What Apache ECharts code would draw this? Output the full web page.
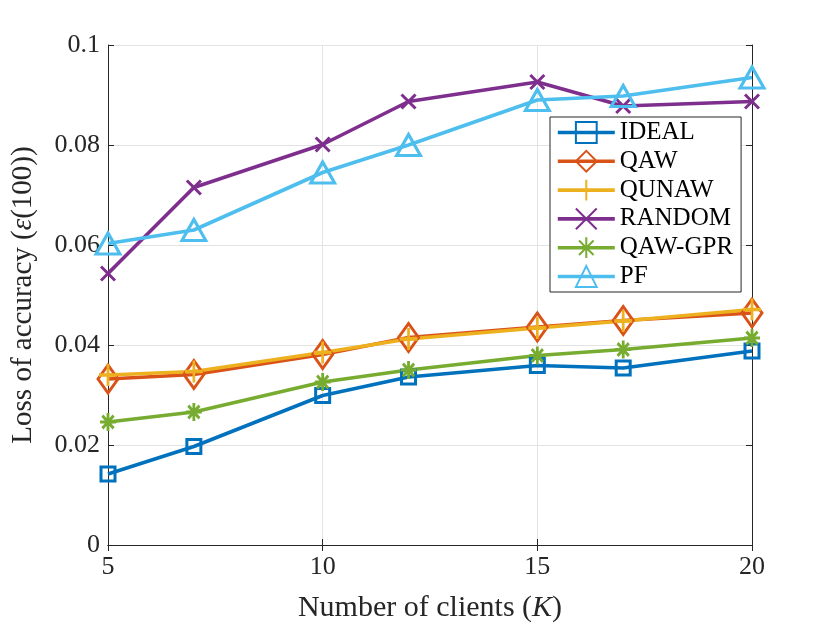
<!DOCTYPE html>
<html>
<head>
<meta charset="utf-8">
<script src="https://cdn.jsdelivr.net/npm/echarts@6/dist/echarts.min.js"></script>
<style>
  html, body { margin: 0; padding: 0; background: #fff; }
  #main { width: 830px; height: 623px; }
</style>
</head>
<body>
<div id="main"></div>
<script>
// 数据
var clients = [5, 7, 10, 12, 15, 17, 20];
var ideal   = [0.0142, 0.0197, 0.0299, 0.0336, 0.0359, 0.0354, 0.0388];
var qaw     = [0.0332, 0.0341, 0.0381, 0.0415, 0.0436, 0.0449, 0.0464];
var qunaw   = [0.0340, 0.0347, 0.0385, 0.0412, 0.0434, 0.0448, 0.0471];
var random  = [0.0543, 0.0715, 0.0801, 0.0887, 0.0926, 0.0878, 0.0887];
var qawGpr  = [0.0246, 0.0266, 0.0326, 0.0350, 0.0379, 0.0391, 0.0414];
var pf      = [0.0603, 0.0630, 0.0745, 0.0800, 0.0890, 0.0898, 0.0935];
var yTicks  = [0, 0.02, 0.04, 0.06, 0.08, 0.1];

var FONT = 'Liberation Serif';

function pairs(ys){
	var out = [];
	for (var i = 0; i < clients.length; i++) out.push([clients[i], ys[i]]);
	return out;
}

function makeSeries(name, ys, color, symbol, size){
	return {
		name: name,
		type: 'line',
		data: pairs(ys),
		symbol: symbol,
		symbolSize: size,
		showAllSymbol: true,
		z: 3,
		lineStyle: { color: color, width: 3.6 },
		itemStyle: { color: 'rgba(0,0,0,0)', borderColor: color, borderWidth: 3 },
		emphasis: { disabled: true }
	};
}

function loadChart(){
	var chart = echarts.init(document.getElementById('main'));
	var plus  = 'path://M5,0 L5,10 M0,5 L10,5';
	var cross = 'path://M0,0 L10,10 M10,0 L0,10';
	var star  = 'path://M5,0 L5,10 M0,5 L10,5 M1.5,1.5 L8.5,8.5 M8.5,1.5 L1.5,8.5';
	var axisColor = '#262626';
	var option = {
		animation: false,
		backgroundColor: '#fff',
		grid: { left: 108, right: 78, top: 45, bottom: 78, outerBoundsMode: 'none' },
		legend: {
			orient: 'vertical',
			left: 550,
			top: 117,
			width: 193,
			padding: [3, 8, 3, 6],
			itemWidth: 57,
			itemHeight: 26,
			itemGap: 3.8,
			backgroundColor: '#fff',
			borderColor: axisColor,
			borderWidth: 1,
			lineStyle: { width: 3.6 },
			textStyle: { fontFamily: FONT, fontSize: 25, color: '#000', padding: [0, 0, 0, 0] },
			data: ['IDEAL', 'QAW', 'QUNAW', 'RANDOM', 'QAW-GPR', 'PF']
		},
		xAxis: [
			{
				type: 'value',
				min: 5,
				max: 20,
				interval: 5,
				name: 'Number of clients ({i|K})',
				nameLocation: 'middle',
				nameGap: 48,
				nameTextStyle: {
					fontFamily: FONT, fontSize: 30, color: '#262626',
					rich: { i: { fontFamily: FONT, fontSize: 30, fontStyle: 'italic', color: '#262626' } }
				},
				axisLine: { lineStyle: { color: axisColor, width: 1 } },
				axisTick: { inside: true, length: 6, lineStyle: { color: axisColor } },
				axisLabel: { fontFamily: FONT, fontSize: 26, color: '#262626', margin: 9 },
				splitLine: { show: true, lineStyle: { color: '#e3e3e3', width: 1 } }
			},
			{
				type: 'value',
				position: 'top',
				min: 5,
				max: 20,
				interval: 5,
				axisLine: { show: true, lineStyle: { color: axisColor, width: 1 } },
				axisTick: { show: true, inside: true, length: 6, lineStyle: { color: axisColor } },
				axisLabel: { show: false },
				splitLine: { show: false }
			}
		],
		yAxis: [
			{
				type: 'value',
				min: 0,
				max: 0.1,
				interval: 0.02,
				name: 'Loss of accuracy ({i|ε}(100))',
				nameLocation: 'middle',
				nameGap: 70,
				nameTextStyle: {
					fontFamily: FONT, fontSize: 29, color: '#262626',
					rich: { i: { fontFamily: FONT, fontSize: 29, fontStyle: 'italic', color: '#262626' } }
				},
				axisLine: { show: true, lineStyle: { color: axisColor, width: 1 } },
				axisTick: { show: true, inside: true, length: 6, lineStyle: { color: axisColor } },
				axisLabel: {
					fontFamily: FONT, fontSize: 26, color: '#262626', margin: 8,
					formatter: function(v){
						for (var i = 0; i < yTicks.length; i++) {
							if (Math.abs(v - yTicks[i]) < 1e-9) return String(yTicks[i]);
						}
						return '';
					}
				},
				splitLine: { show: true, lineStyle: { color: '#e3e3e3', width: 1 } }
			},
			{
				type: 'value',
				position: 'right',
				min: 0,
				max: 0.1,
				interval: 0.02,
				axisLine: { show: true, lineStyle: { color: axisColor, width: 1 } },
				axisTick: { show: true, inside: true, length: 6, lineStyle: { color: axisColor } },
				axisLabel: { show: false },
				splitLine: { show: false }
			}
		],
		series: [
			makeSeries('IDEAL',   ideal,  '#0072BD', 'rect',     [14, 14]),
			makeSeries('QAW',     qaw,    '#D95319', 'diamond',  [20, 28]),
			makeSeries('QUNAW',   qunaw,  '#EDB120', plus,       [18, 22]),
			makeSeries('RANDOM',  random, '#7E2F8E', cross,      [14, 14]),
			makeSeries('QAW-GPR', qawGpr, '#77AC30', star,       [16, 18]),
			makeSeries('PF',      pf,     '#4DBEEE', 'triangle', [24, 21])
		]
	};
	chart.setOption(option);
}

loadChart();
</script>
</body>
</html>
